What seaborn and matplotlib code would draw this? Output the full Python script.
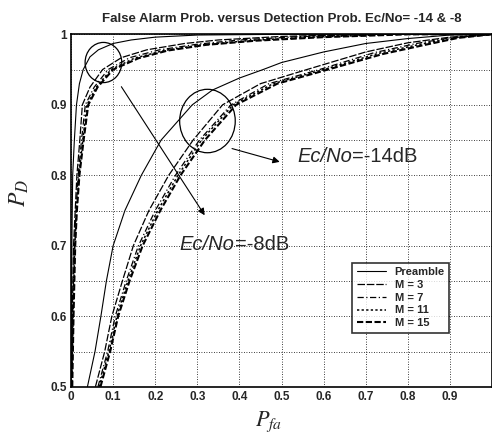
import numpy as np
import pandas as pd
import matplotlib
matplotlib.use("Agg")
import matplotlib.pyplot as plt
import seaborn as sns
from matplotlib.patches import Ellipse

# series names
series = ["Preamble", "M = 3", "M = 7", "M = 11", "M = 15"]

# Ec/No = -8 dB curves (Pfa, PD)
pfa_8_pre = [0.0, 0.001, 0.002, 0.004, 0.008, 0.013, 0.02, 0.029, 0.045, 0.065, 0.1, 0.143, 0.2, 0.3, 0.5, 1.0]
pd_8_pre = [0.5, 0.6, 0.7, 0.8, 0.85, 0.9, 0.93, 0.95, 0.968, 0.978, 0.987, 0.992, 0.996, 0.999, 1.0, 1.0]
pfa_8_m3 = [0.001, 0.003, 0.006, 0.01, 0.014, 0.021, 0.027, 0.045, 0.075, 0.12, 0.18, 0.27, 0.35, 0.5, 0.7, 1.0]
pd_8_m3 = [0.5, 0.6, 0.7, 0.75, 0.8, 0.85, 0.9, 0.925, 0.95, 0.967, 0.978, 0.987, 0.992, 0.997, 1.0, 1.0]
pfa_8_m7 = [0.002, 0.004, 0.008, 0.012, 0.017, 0.025, 0.034, 0.055, 0.088, 0.14, 0.21, 0.3, 0.4, 0.55, 0.75, 1.0]
pd_8_m7 = [0.5, 0.6, 0.7, 0.75, 0.8, 0.85, 0.9, 0.925, 0.95, 0.967, 0.978, 0.986, 0.992, 0.997, 1.0, 1.0]
pfa_8_m11 = [0.002, 0.005, 0.009, 0.013, 0.019, 0.028, 0.038, 0.06, 0.095, 0.15, 0.22, 0.31, 0.42, 0.57, 0.78, 1.0]
pd_8_m11 = [0.5, 0.6, 0.7, 0.75, 0.8, 0.85, 0.9, 0.925, 0.95, 0.966, 0.977, 0.985, 0.991, 0.996, 1.0, 1.0]
pfa_8_m15 = [0.003, 0.006, 0.01, 0.014, 0.02, 0.03, 0.041, 0.063, 0.1, 0.16, 0.23, 0.32, 0.44, 0.6, 0.8, 1.0]
pd_8_m15 = [0.5, 0.6, 0.7, 0.75, 0.8, 0.85, 0.9, 0.925, 0.95, 0.966, 0.977, 0.985, 0.991, 0.996, 1.0, 1.0]

# Ec/No = -14 dB curves
pfa_14_pre = [0.039, 0.057, 0.071, 0.084, 0.1, 0.128, 0.167, 0.214, 0.288, 0.336, 0.4, 0.456, 0.5, 0.6, 0.7, 0.8, 0.9, 1.0]
pd_14_pre = [0.5, 0.55, 0.6, 0.65, 0.7, 0.75, 0.8, 0.85, 0.9, 0.921, 0.938, 0.95, 0.96, 0.975, 0.987, 0.994, 0.999, 1.0]
pfa_14_m3 = [0.058, 0.08, 0.097, 0.122, 0.148, 0.185, 0.232, 0.29, 0.36, 0.45, 0.56, 0.7, 0.8, 0.9, 1.0]
pd_14_m3 = [0.5, 0.55, 0.6, 0.65, 0.7, 0.75, 0.8, 0.85, 0.9, 0.93, 0.95, 0.975, 0.988, 0.996, 1.0]
pfa_14_m7 = [0.064, 0.087, 0.105, 0.131, 0.16, 0.2, 0.248, 0.305, 0.38, 0.47, 0.59, 0.72, 0.82, 0.9, 1.0]
pd_14_m7 = [0.5, 0.55, 0.6, 0.65, 0.7, 0.75, 0.8, 0.85, 0.9, 0.93, 0.95, 0.974, 0.987, 0.995, 1.0]
pfa_14_m11 = [0.067, 0.09, 0.109, 0.135, 0.165, 0.206, 0.254, 0.31, 0.385, 0.48, 0.6, 0.73, 0.83, 0.91, 1.0]
pd_14_m11 = [0.5, 0.55, 0.6, 0.65, 0.7, 0.75, 0.8, 0.85, 0.9, 0.93, 0.95, 0.973, 0.986, 0.995, 1.0]
pfa_14_m15 = [0.07, 0.093, 0.112, 0.139, 0.17, 0.212, 0.26, 0.318, 0.392, 0.49, 0.61, 0.74, 0.84, 0.92, 1.0]
pd_14_m15 = [0.5, 0.55, 0.6, 0.65, 0.7, 0.75, 0.8, 0.85, 0.9, 0.93, 0.95, 0.972, 0.985, 0.995, 1.0]

# build long table
rows = []
curves_8 = [(pfa_8_pre, pd_8_pre), (pfa_8_m3, pd_8_m3), (pfa_8_m7, pd_8_m7), (pfa_8_m11, pd_8_m11), (pfa_8_m15, pd_8_m15)]
curves_14 = [(pfa_14_pre, pd_14_pre), (pfa_14_m3, pd_14_m3), (pfa_14_m7, pd_14_m7), (pfa_14_m11, pd_14_m11), (pfa_14_m15, pd_14_m15)]
for snr, curves in [("-8", curves_8), ("-14", curves_14)]:
    for name, (xs, ys) in zip(series, curves):
        for x, y in zip(xs, ys):
            rows.append({"snr": snr, "series": name, "Pfa": x, "PD": y})
roc = pd.DataFrame(rows)

# style
sns.set_style("white")
plt.rcParams["font.family"] = ["Liberation Sans", "DejaVu Sans"]
plt.rcParams["mathtext.fontset"] = "stix"

fig = plt.figure(figsize=(4.92, 4.40), dpi=100)
ax = fig.add_axes([0.1443, 0.121, 0.856, 0.801])

palette = {s: "black" for s in series}
dashes = {"Preamble": "", "M = 3": (6, 1.5), "M = 7": (5, 2, 1, 2), "M = 11": (1.5, 1.5), "M = 15": (3, 1.2)}
sizes = {"Preamble": 0.8, "M = 3": 0.9, "M = 7": 0.9, "M = 11": 1.1, "M = 15": 1.5}
sns.lineplot(data=roc, x="Pfa", y="PD", hue="series", style="series", size="series",
             units="snr", estimator=None, sort=False, palette=palette, dashes=dashes,
             sizes=sizes, ax=ax, legend=True)

ax.set_xlim(0, 1)
ax.set_ylim(0.5, 1)
ax.set_xticks(np.arange(0, 1.0, 0.1))
ax.set_xticklabels(["0", "0.1", "0.2", "0.3", "0.4", "0.5", "0.6", "0.7", "0.8", "0.9"],
                   fontsize=8.5, fontweight="bold")
yt = np.arange(0.5, 1.001, 0.05)
ax.set_yticks(yt)
ax.set_yticklabels([("%g" % round(v, 2)) if abs(v * 10 - round(v * 10)) < 1e-6 else "" for v in yt],
                   fontsize=8.5, fontweight="bold")
ax.tick_params(length=2, direction="in", pad=3)
ax.grid(True, linestyle=(0, (1, 2)), color="black", linewidth=0.6)
for sp in ax.spines.values():
    sp.set_linewidth(1.2)
    sp.set_color("black")

ax.set_title("False Alarm Prob. versus Detection Prob. Ec/No= -14 & -8", fontsize=9.5,
             fontweight="bold", pad=9)
ax.set_xlabel("$P_{fa}$", fontsize=16)
ax.set_ylabel("$P_D$", fontsize=17)
ax.xaxis.set_label_coords(0.47, -0.065)
ax.yaxis.set_label_coords(-0.095, 0.55)

# ellipses and arrows
ax.add_patch(Ellipse((0.077, 0.96), 0.087, 0.057, fill=False, edgecolor="black", lw=0.9))
ax.add_patch(Ellipse((0.324, 0.877), 0.132, 0.09, fill=False, edgecolor="black", lw=0.9))
ax.annotate("", xy=(0.321, 0.74), xytext=(0.116, 0.929),
            arrowprops=dict(arrowstyle="-|>", color="black", lw=0.8, mutation_scale=10))
ax.annotate("", xy=(0.502, 0.818), xytext=(0.376, 0.839),
            arrowprops=dict(arrowstyle="-|>", color="black", lw=0.8, mutation_scale=10))
t1 = ax.text(0.537, 0.826, "Ec/No", fontsize=14.5, style="italic", va="center", ha="left")
ax.annotate("=-14dB", xy=(1, 0.5), xycoords=t1, fontsize=14.5, va="center", ha="left")
t2 = ax.text(0.258, 0.702, "Ec/No", fontsize=14.5, style="italic", va="center", ha="left")
ax.annotate("=-8dB", xy=(1, 0.5), xycoords=t2, fontsize=14.5, va="center", ha="left")

# legend
handles, labels = ax.get_legend_handles_labels()
leg = ax.legend(handles, labels, loc="upper left", bbox_to_anchor=(0.655, 0.368),
                prop={"weight": "bold", "size": 8}, handlelength=2.6, frameon=True,
                fancybox=False, edgecolor="black", borderpad=0.4, labelspacing=0.25,
                handletextpad=0.8)
leg.get_frame().set_linewidth(1.2)

fig.savefig("out.png", dpi=100)
